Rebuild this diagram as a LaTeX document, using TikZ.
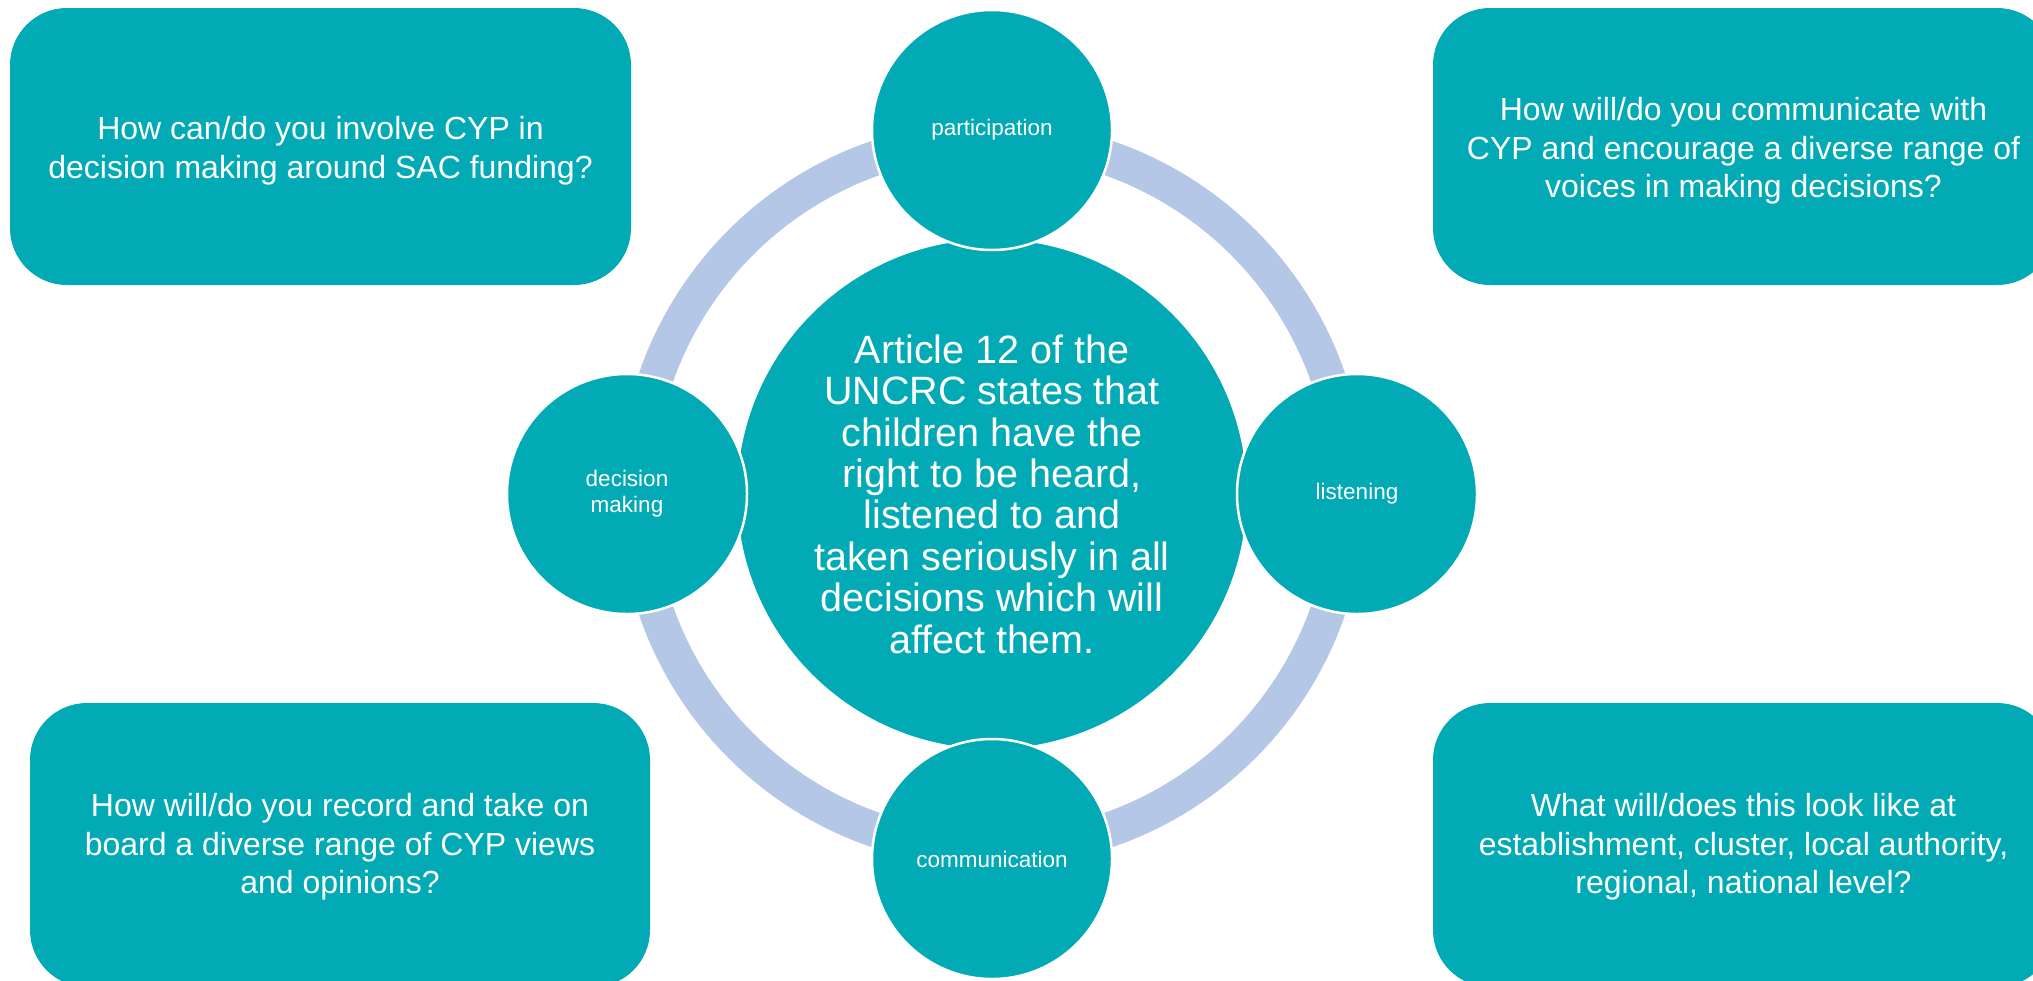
\documentclass[tikz,border=0pt]{standalone}
\usepackage{fontspec}
\setmainfont{Liberation Sans}
\definecolor{mainteal}{RGB}{2,170,181}
\definecolor{ringblue}{RGB}{180,199,231}
\begin{document}
\begin{tikzpicture}[x=1pt,y=-1pt,
  qbox/.style={fill=mainteal, draw=none, rounded corners=57pt, inner sep=0pt},
  qtext/.style={text=white, align=center, font=\fontsize{32}{38.3}\selectfont, inner sep=0pt},
  hub/.style={circle, fill=mainteal, draw=white, line width=2.5pt, minimum size=512pt, inner sep=0pt, text=white, align=center, font=\fontsize{39.5}{41.4}\selectfont},
  spoke/.style={circle, fill=mainteal, draw=white, line width=2.5pt, minimum size=240pt, inner sep=0pt, text=white, align=center, font=\fontsize{22.5}{26}\selectfont},
  ringstyle/.style={draw=ringblue, line width=35pt}]
\clip (0,0) rectangle (2033,980);
\fill[white] (0,0) rectangle (2033,980);
% question boxes
\node[qbox, minimum width=621pt, minimum height=277pt] (tl) at (320.5,146.5) {};
\node[qbox, minimum width=621pt, minimum height=277pt] (tr) at (1743.5,146.5) {};
\node[qbox, minimum width=620pt, minimum height=284pt] (bl) at (340,845) {};
\node[qbox, minimum width=621pt, minimum height=284pt] (br) at (1743.5,845) {};
\node[qtext] (tlt) at ([yshift=-4.3pt]tl.center) {How can/do you involve CYP in\\decision making around SAC funding?};
\node[qtext] (trt) at ([yshift=-4.3pt]tr.center) {How will/do you communicate with\\CYP and encourage a diverse range of\\voices in making decisions?};
\node[qtext] (blt) at ([yshift=-2pt]bl.center) {How will/do you record and take on\\board a diverse range of CYP views\\and opinions?};
\node[qtext] (brt) at ([yshift=-2pt]br.center) {What will/does this look like at\\establishment, cluster, local authority,\\regional, national level?};
% ring
\coordinate (o) at (992,494);
\draw[ringstyle] (o) circle[radius=355.5pt];
% hub
\node[hub] (center) at (o) {Article 12 of the\\UNCRC states that\\children have the\\right to be heard,\\listened to and\\taken seriously in all\\decisions which will\\affect them.};
% spokes
\node[spoke] (part) at (992,130) {participation};
\node[spoke] (list) at (1357,494) {listening};
\node[spoke] (comm) at (992,859) {communication};
\node[spoke] (deci) at (627,494) {decision\\making};
\end{tikzpicture}
\end{document}
